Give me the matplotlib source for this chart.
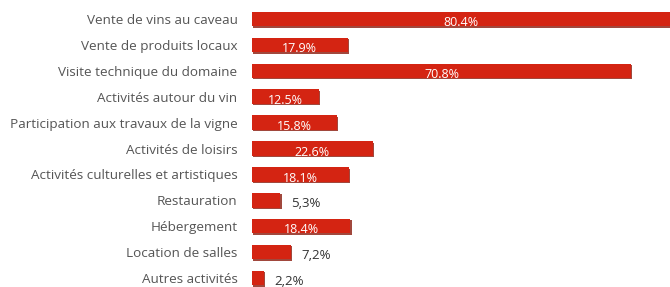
import matplotlib
matplotlib.use("Agg")
import matplotlib.pyplot as plt
import matplotlib.patheffects as pe

categories = [
    "Vente de vins au caveau",
    "Vente de produits locaux",
    "Visite technique du domaine",
    "Activités autour du vin",
    "Participation aux travaux de la vigne",
    "Activités de loisirs",
    "Activités culturelles et artistiques",
    "Restauration",
    "Hébergement",
    "Location de salles",
    "Autres activités",
]
values = [80.4, 17.9, 70.8, 12.5, 15.8, 22.6, 18.1, 5.3, 18.4, 7.2, 2.2]
labels = ["80.4%", "17.9%", "70.8%", "12.5%", "15.8%", "22.6%", "18.1%",
          "5,3%", "18.4%", "7,2%", "2,2%"]
inside = [True, True, True, True, True, True, True, False, True, False, False]

plt.rcParams['font.family'] = ['Open Sans', 'DejaVu Sans']

fig = plt.figure(figsize=(6.7, 2.87), dpi=100)
ax = fig.add_axes([252 / 670, -4 / 287, 418 / 670, 285 / 287])

XMAX = 78.1
y = list(range(len(categories)))
bars = ax.barh(y, values, height=0.56, color="#d42412", edgecolor="none",
               zorder=2)
for b in bars:
    b.set_path_effects([
        pe.SimplePatchShadow(offset=(1.0, -1.0), shadow_rgbFace="#8a1a0c",
                             alpha=0.8),
        pe.Normal(),
    ])

for yi, v, lab, ins in zip(y, values, labels, inside):
    if ins:
        ax.text(min(v, XMAX) / 2, yi + 0.14, lab, ha="center", va="center",
                color="white", fontsize=9, zorder=3)
    else:
        ax.text(v + 2.0, yi + 0.12, lab, ha="left", va="center",
                color="#333333", fontsize=9.5, zorder=3)

ax.set_xlim(0, XMAX)
ax.set_ylim(len(categories) - 0.5, -0.5)
ax.set_yticks(y)
ax.set_yticklabels(categories, fontsize=9.7, color="#555555")
ax.tick_params(axis="y", length=0, pad=10.5)
ax.set_xticks([])
for s in ax.spines.values():
    s.set_visible(False)

fig.savefig("out.png", dpi=100, facecolor="white")
